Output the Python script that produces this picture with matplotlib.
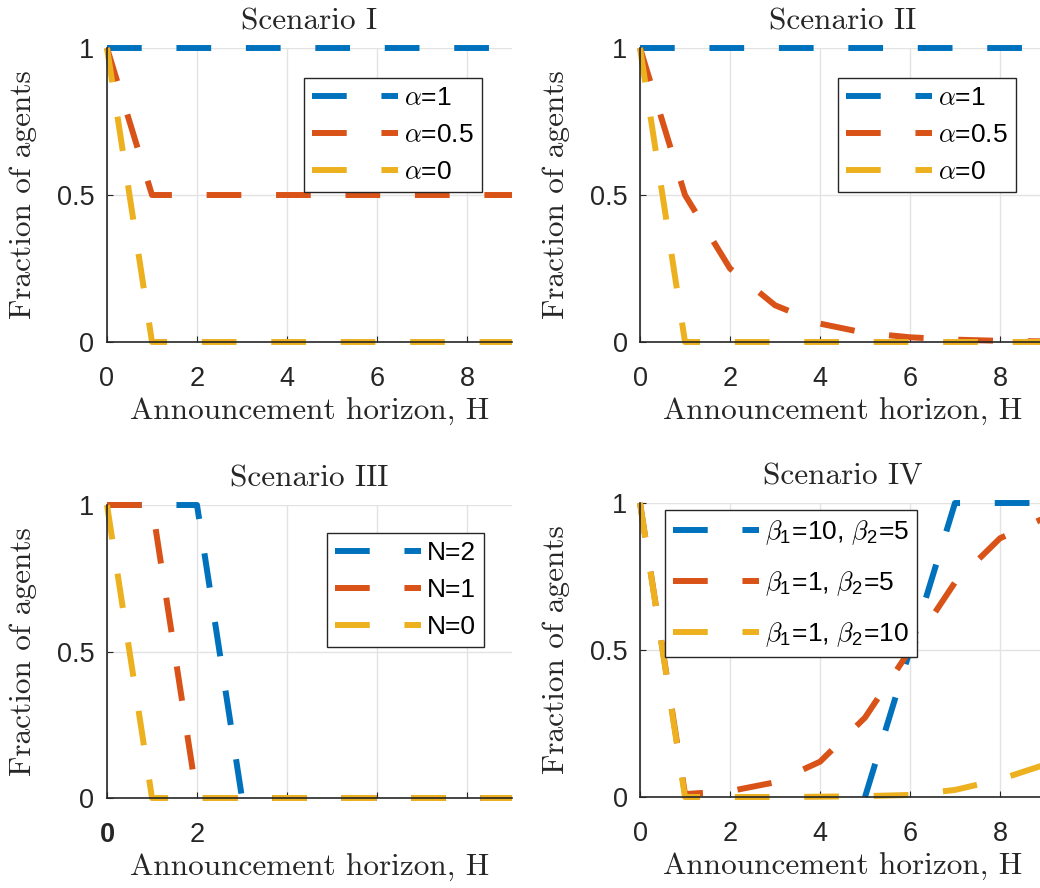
import numpy as np
import matplotlib
matplotlib.use('Agg')
import matplotlib.pyplot as plt

# horizon values
H = [0, 1, 2, 3, 4, 5, 6, 7, 8, 9]
nan = np.nan

# Scenario I
s1_a1 = [1, 1, 1, 1, 1, 1, 1, 1, 1, 1]
s1_a05 = [1, 0.5, 0.5, 0.5, 0.5, 0.5, 0.5, 0.5, 0.5, 0.5]
s1_a0 = [1, 0, 0, 0, 0, 0, 0, 0, 0, 0]

# Scenario II
s2_a1 = [1, 1, 1, 1, 1, 1, 1, 1, 1, 1]
s2_a05 = [1, 0.5, 0.25, 0.125, 0.0625, 0.031, 0.016, 0.008, 0.004, 0.002]
s2_a0 = [1, 0, 0, 0, 0, 0, 0, 0, 0, 0]

# Scenario III
s3_n2 = [1, 1, 1, 0, 0, 0, 0, 0, 0, 0]
s3_n1 = [1, 1, 0, 0, 0, 0, 0, 0, 0, 0]
s3_n0 = [1, 0, 0, 0, 0, 0, 0, 0, 0, 0]

# Scenario IV
s4_b10_5 = [nan, nan, nan, nan, nan, 0, 0.5, 1, 1, 1]
s4_b1_5 = [1, 0.01, 0.02, 0.05, 0.12, 0.27, 0.5, 0.73, 0.88, 0.95]
s4_b1_10 = [1, 0, 0, 0, 0.001, 0.003, 0.007, 0.024, 0.06, 0.11]

titles = ['Scenario I', 'Scenario II', 'Scenario III', 'Scenario IV']
labels_alpha = [r'$\alpha$=1', r'$\alpha$=0.5', r'$\alpha$=0']
labels_n = ['N=2', 'N=1', 'N=0']
labels_beta = [r'$\beta_{\mathregular{1}}$=10, $\beta_{\mathregular{2}}$=5',
               r'$\beta_{\mathregular{1}}$=1, $\beta_{\mathregular{2}}$=5',
               r'$\beta_{\mathregular{1}}$=1, $\beta_{\mathregular{2}}$=10']

colors = ['#0072BD', '#D95319', '#EDB120']

plt.rcParams['font.family'] = ['Liberation Sans', 'DejaVu Sans']
plt.rcParams['mathtext.fontset'] = 'cm'
plt.rcParams['lines.scale_dashes'] = False

W, Hpx = 1040, 888
fig = plt.figure(figsize=(W / 100, Hpx / 100), dpi=100)

def fx(px):
    return px / W

def fy(py):
    return 1 - py / Hpx

# axes boxes in pixels: left, top, right, bottom
boxes = [(107, 48, 512, 342), (640, 48, 1045, 342),
         (107, 505, 512, 798), (640, 503, 1045, 797)]
legend_pos = [(304, 78), (838, 78), (327, 533), (665, 510)]
legend_gap = [0.5, 0.5, 0.5, 0.85]

series = [
    ([s1_a1, s1_a05, s1_a0], labels_alpha),
    ([s2_a1, s2_a05, s2_a0], labels_alpha),
    ([s3_n2, s3_n1, s3_n0], labels_n),
    ([s4_b10_5, s4_b1_5, s4_b1_10], labels_beta),
]

dash = (0, (25, 25))
txtc = '#262626'

for i, (box, (ys, labs)) in enumerate(zip(boxes, series)):
    l, t, r, b = box
    ax = fig.add_axes([fx(l), fy(b), (r - l) / W, (b - t) / Hpx])
    for y, lab, c in zip(ys, labs, colors):
        ax.plot(H, y, color=c, lw=4.3, linestyle=dash, label=lab,
                dash_capstyle='butt', solid_joinstyle='round', clip_on=False)
    ax.set_xlim(0, 9)
    ax.set_ylim(0, 1)
    ax.set_xticks([0, 2, 4, 6, 8])
    if i == 2:
        ax.set_xticklabels(['0', '2', '', '', ''])
        ax.get_xticklabels()[0].set_fontweight('bold')
    ax.set_yticks([0, 0.5, 1])
    ax.set_yticklabels(['0', '0.5', '1'])
    ax.grid(True, color='#e3e3e3', lw=1)
    ax.set_axisbelow(True)
    for s in ['top', 'right']:
        ax.spines[s].set_visible(False)
    for s in ['left', 'bottom']:
        ax.spines[s].set_color(txtc)
        ax.spines[s].set_linewidth(1.2)
    ax.tick_params(direction='in', length=4, labelsize=19.5, colors=txtc,
                   labelcolor=txtc)
    ax.tick_params(axis='x', pad=17)
    ax.tick_params(axis='y', pad=9)
    ax.set_title(titles[i], fontname='cmr10', fontsize=22.5, pad=13,
                 color=txtc)
    ax.set_xlabel('Announcement horizon, H', fontname='cmr10', fontsize=22.5,
                  color=txtc)
    ax.set_ylabel('Fraction of agents', fontname='cmr10', fontsize=22.5,
                  color=txtc)
    ax.xaxis.set_label_coords(0.5, -0.19)
    ax.yaxis.set_label_coords(-0.173, 0.5)
    lx, ly = legend_pos[i]
    leg = ax.legend(loc='upper left', bbox_to_anchor=(fx(lx), fy(ly)),
                    bbox_transform=fig.transFigure, borderaxespad=0,
                    fancybox=False, framealpha=1, edgecolor='#262626',
                    fontsize=19, handlelength=3.26, handletextpad=0.23,
                    labelspacing=legend_gap[i], borderpad=0.3)
    leg.get_frame().set_linewidth(1.0)

fig.savefig('out.png', dpi=100)
